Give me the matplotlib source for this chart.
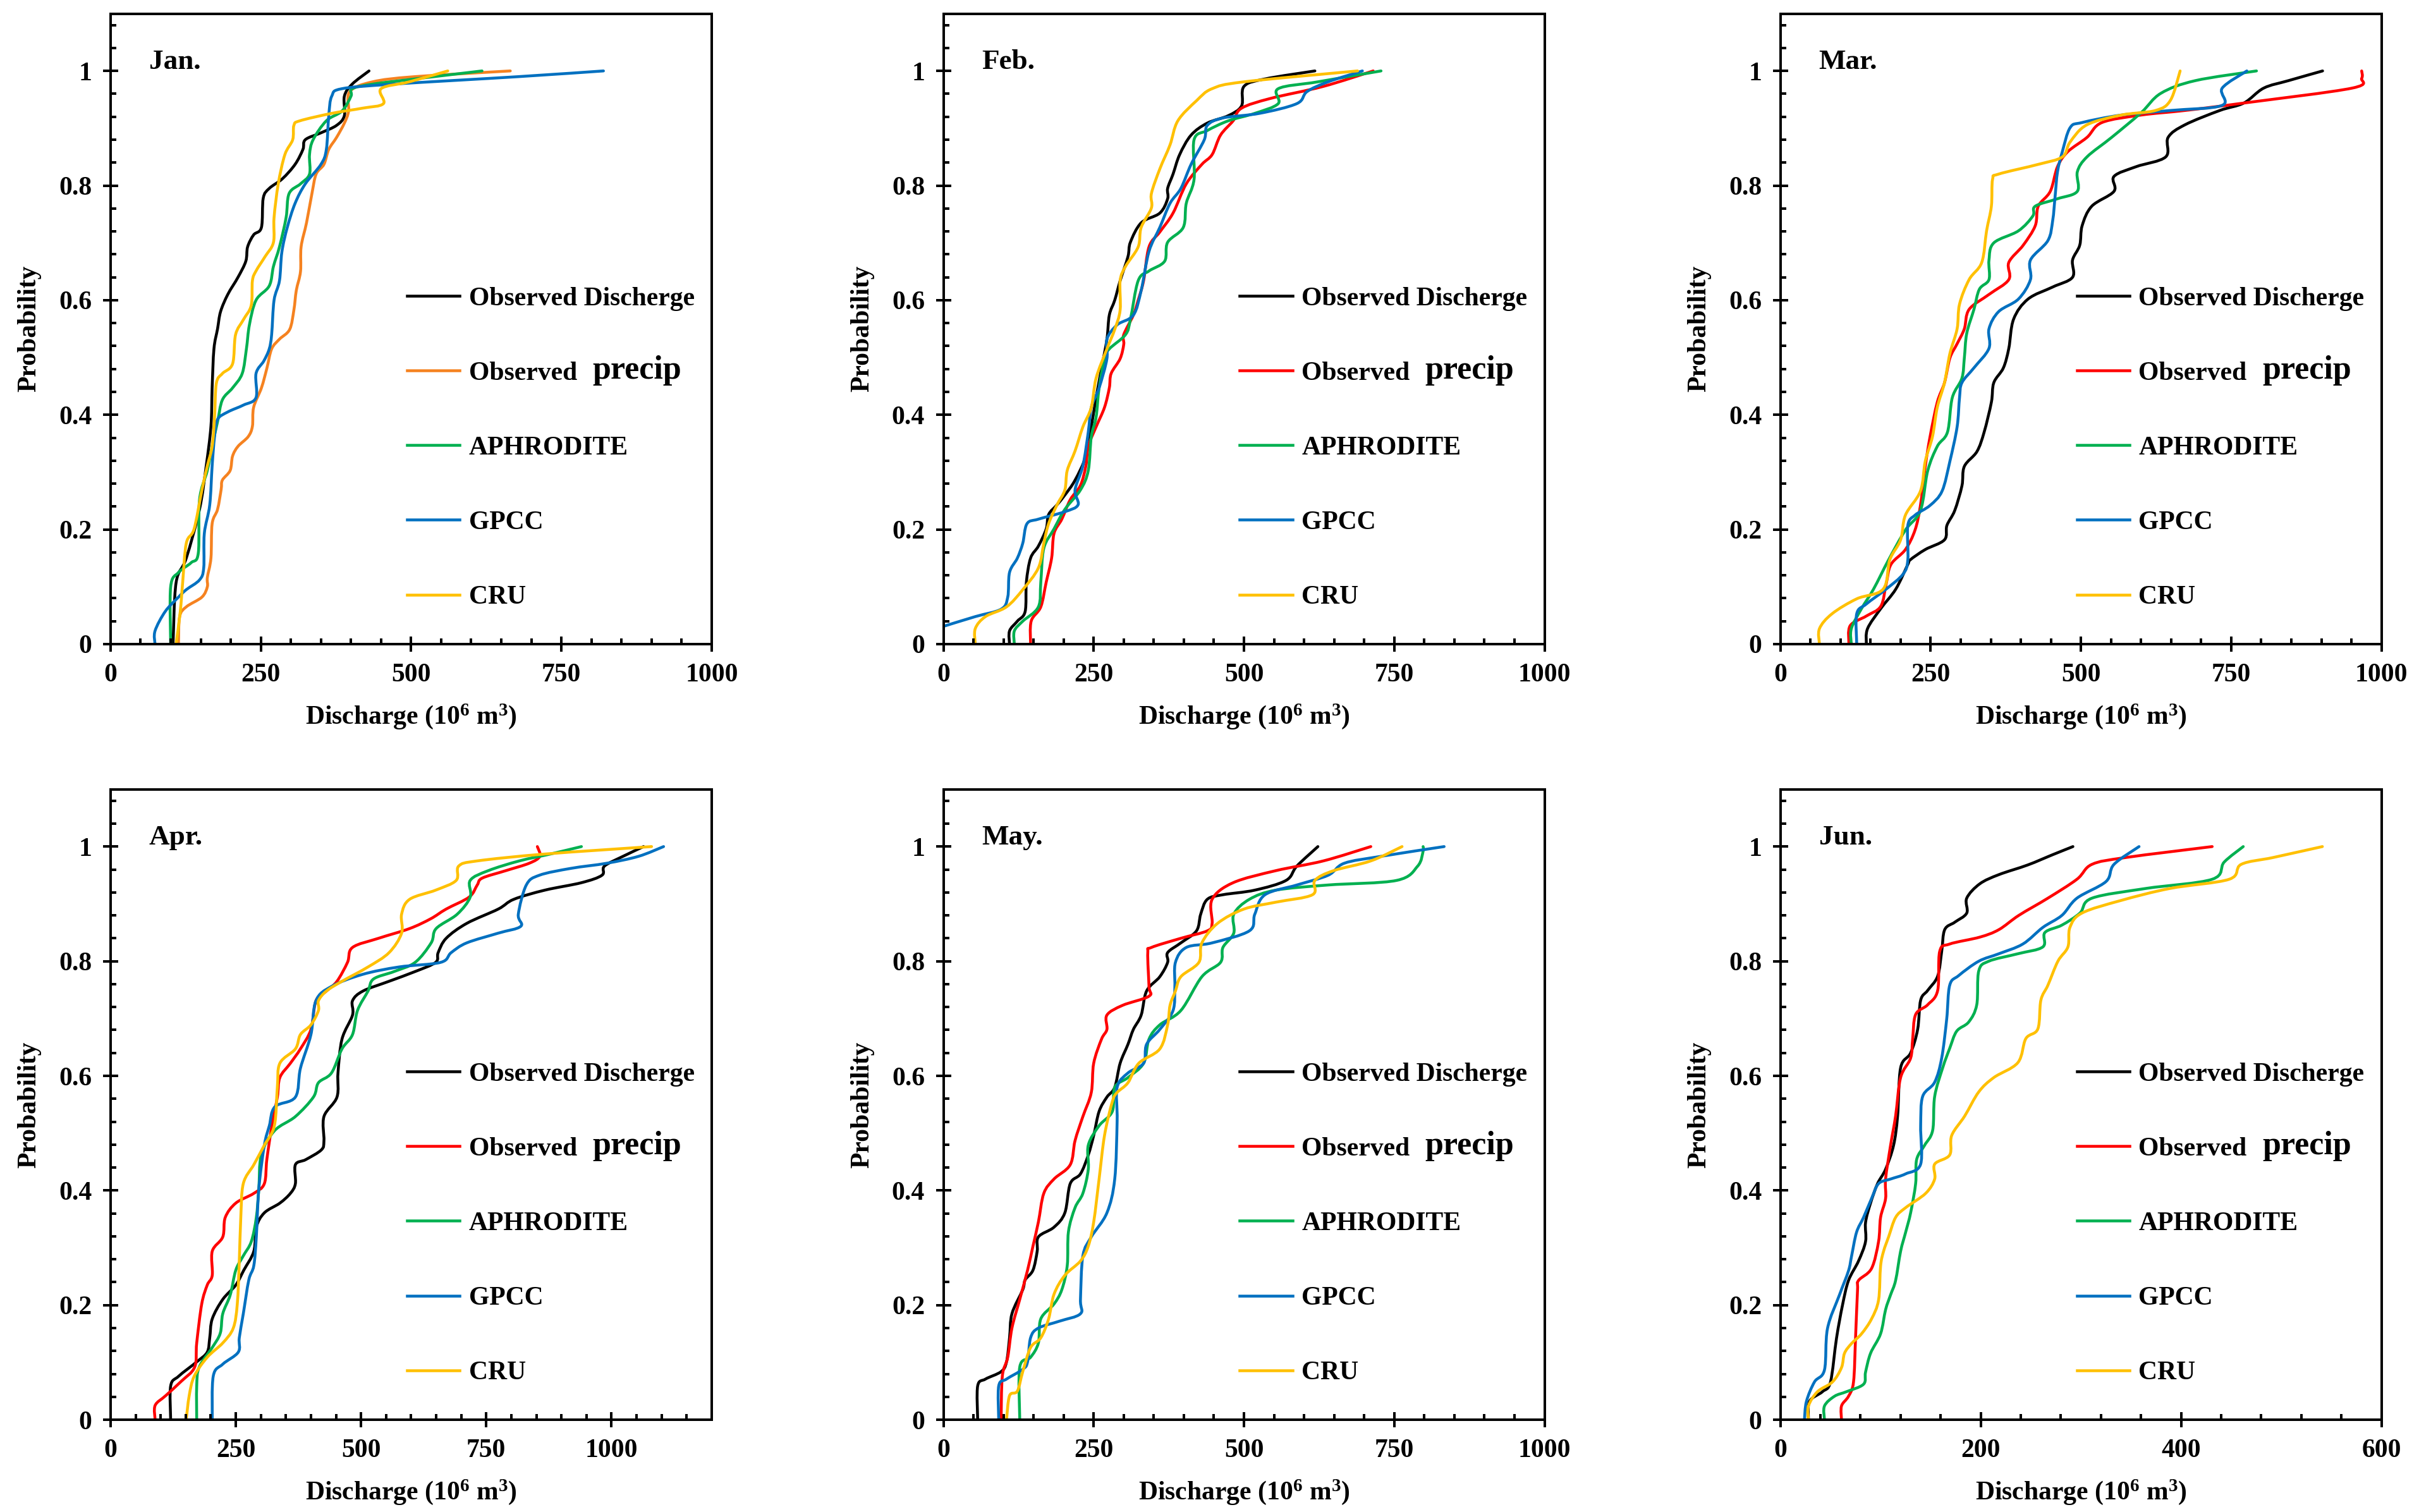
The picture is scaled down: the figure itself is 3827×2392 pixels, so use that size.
import matplotlib.pyplot as plt
from matplotlib.ticker import MultipleLocator, FuncFormatter
from matplotlib.path import Path
from matplotlib.patches import PathPatch
from matplotlib.lines import Line2D
import numpy as np

plt.rcParams['font.family'] = ['Liberation Serif', 'DejaVu Serif']
plt.rcParams['font.weight'] = 'bold'
plt.rcParams['axes.labelweight'] = 'bold'
plt.rcParams['mathtext.fontset'] = 'custom'
plt.rcParams['mathtext.rm'] = 'Liberation Serif:bold'
plt.rcParams['mathtext.default'] = 'rm'

# (discharge, probability)
jan_discharge = [(104, 0), (109, .107), (126, .15), (148, .235), (159, .31), (167, .38), (169, .447),
                 (172, .515), (178, .55), (183, .58), (195, .61), (212, .64), (225, .668), (228, .693),
                 (238, .714), (251, .727), (254, .778), (264, .795), (286, .812), (307, .837), (320, .863),
                 (324, .88), (350, .892), (376, .905), (389, .922), (389, .956), (402, .977), (430, 1)]
jan_precip = [(113, 0), (115, .048), (126, .065), (152, .082), (161, .1), (161, .116), (167, .15), (169, .21),
              (178, .235), (184, .27), (186, .286), (199, .303), (203, .328), (212, .345), (229, .362),
              (236, .38), (238, .413), (251, .447), (260, .481), (268, .515), (281, .532), (298, .549),
              (305, .583), (309, .617), (316, .65), (317, .693), (326, .735), (335, .786), (342, .82),
              (355, .837), (363, .863), (376, .884), (389, .909), (396, .93), (398, .964), (436, .981),
              (506, .99), (665, 1)]
jan_aphro = [(100, 0), (100, .1), (113, .125), (134, .142), (146, .159), (148, .252), (161, .303), (169, .345),
             (178, .388), (186, .426), (203, .447), (219, .472), (226, .515), (231, .557), (242, .6),
             (264, .625), (271, .659), (281, .693), (292, .744), (297, .786), (316, .803), (331, .82),
             (331, .854), (337, .88), (359, .913), (385, .93), (400, .956), (402, .969), (436, .977),
             (506, .986), (618, 1)]
jan_gpcc = [(74, 0), (74, .023), (91, .057), (113, .082), (126, .095), (148, .112), (155, .133), (156, .193),
            (165, .243), (169, .311), (173, .362), (178, .392), (195, .405), (221, .417), (242, .43),
            (242, .472), (255, .494), (264, .515), (268, .54), (272, .6), (281, .634), (285, .684),
            (294, .727), (307, .769), (324, .803), (350, .837), (359, .863), (363, .922), (368, .956),
            (385, .969), (471, .977), (678, .99), (820, 1)]
jan_cru = [(109, 0), (116, .057), (120, .108), (126, .176), (139, .201), (152, .269), (161, .311), (169, .345),
           (173, .396), (176, .455), (186, .472), (203, .489), (208, .54), (221, .566), (234, .591),
           (236, .634), (242, .651), (257, .676), (271, .701), (272, .744), (279, .803), (290, .854),
           (303, .88), (305, .905), (315, .913), (368, .926), (419, .935), (454, .943), (450, .969),
           (497, .981), (561, 1)]

feb_discharge = [(110, 0), (110, .023), (123, .04), (136, .057), (138, .108), (145, .15), (158, .171),
                 (171, .201), (175, .226), (189, .243), (202, .26), (219, .286), (237, .328), (246, .379),
                 (254, .43), (263, .481), (272, .532), (276, .574), (285, .6), (294, .634), (307, .676),
                 (311, .701), (329, .735), (360, .752), (373, .777), (373, .795), (382, .82), (393, .854),
                 (412, .888), (439, .909), (474, .922), (496, .939), (500, .973), (535, .986), (618, 1)]
feb_precip = [(145, 0), (146, .04), (162, .065), (171, .108), (180, .15), (184, .193), (197, .218),
              (211, .252), (228, .277), (237, .311), (241, .345), (254, .379), (268, .413), (276, .447),
              (279, .472), (294, .498), (300, .523), (300, .54), (316, .574), (324, .6), (333, .634),
              (342, .693), (360, .719), (382, .752), (404, .803), (430, .837), (447, .854), (461, .888),
              (482, .913), (496, .935), (544, .952), (632, .973), (715, 1)]
feb_aphro = [(118, 0), (118, .023), (132, .04), (158, .065), (162, .108), (167, .167), (184, .201),
             (202, .235), (228, .269), (241, .303), (246, .362), (254, .396), (259, .447), (268, .498),
             (276, .515), (303, .54), (311, .566), (324, .634), (342, .651), (368, .668), (373, .701),
             (399, .727), (404, .769), (417, .811), (417, .88), (439, .896), (474, .913), (518, .926),
             (557, .943), (557, .969), (623, .981), (728, 1)]
feb_gpcc = [(0, .031), (53, .048), (96, .061), (107, .082), (110, .125), (123, .15), (132, .176), (139, .21),
            (158, .218), (202, .231), (224, .243), (219, .269), (232, .311), (241, .37), (246, .413),
            (259, .447), (272, .498), (272, .532), (289, .557), (316, .574), (329, .617), (342, .685),
            (360, .727), (377, .769), (395, .795), (412, .837), (434, .88), (439, .905), (465, .918),
            (526, .926), (588, .943), (605, .964), (640, .981), (697, 1)]
feb_cru = [(53, 0), (53, .027), (70, .048), (105, .065), (132, .095), (158, .133), (167, .176), (175, .21),
           (189, .243), (202, .269), (206, .303), (219, .337), (232, .379), (246, .413), (254, .464),
           (272, .515), (285, .549), (294, .583), (294, .634), (303, .659), (324, .693), (329, .727),
           (346, .761), (346, .786), (360, .829), (377, .871), (390, .913), (421, .948), (447, .969),
           (500, .981), (689, 1)]

mar_discharge = [(143, 0), (145, .027), (167, .062), (192, .096), (212, .139), (216, .147), (241, .165),
                 (273, .182), (277, .207), (290, .233), (302, .276), (306, .31), (327, .336), (339, .37),
                 (351, .422), (355, .456), (371, .482), (380, .516), (388, .567), (412, .602), (453, .623),
                 (486, .64), (486, .67), (498, .696), (502, .73), (518, .764), (555, .79), (555, .816),
                 (592, .833), (641, .85), (645, .884), (673, .906), (731, .931), (771, .944), (804, .97),
                 (845, .983), (902, 1)]
mar_precip = [(114, 0), (116, .032), (143, .049), (167, .066), (176, .105), (184, .139), (208, .165),
              (224, .199), (233, .242), (241, .31), (249, .362), (261, .422), (273, .456), (282, .499),
              (294, .524), (306, .55), (314, .584), (347, .61), (380, .636), (380, .666), (404, .696),
              (424, .73), (429, .764), (449, .79), (461, .833), (478, .859), (510, .884), (535, .91),
              (600, .923), (673, .931), (771, .944), (951, .97), (967, .987), (967, 1)]
mar_aphro = [(118, 0), (118, .027), (135, .062), (155, .096), (180, .147), (208, .199), (233, .233),
             (245, .302), (261, .345), (278, .37), (286, .43), (302, .464), (306, .499), (310, .542),
             (322, .584), (331, .619), (347, .636), (347, .67), (355, .7), (396, .721), (420, .747),
             (424, .764), (461, .777), (494, .79), (494, .824), (510, .85), (551, .884), (600, .927),
             (633, .961), (690, .983), (792, 1)]
mar_gpcc = [(127, 0), (127, .053), (143, .07), (176, .096), (204, .122), (212, .147), (212, .207),
            (224, .225), (249, .242), (269, .267), (282, .319), (294, .379), (298, .43), (302, .456),
            (322, .482), (347, .516), (347, .55), (363, .58), (396, .602), (416, .636), (416, .67),
            (445, .704), (453, .739), (457, .781), (461, .824), (469, .859), (482, .901), (502, .91),
            (567, .923), (649, .931), (735, .94), (735, .97), (776, 1)]
mar_cru = [(65, 0), (65, .027), (86, .053), (127, .079), (171, .096), (182, .147), (200, .182), (208, .225),
           (233, .267), (241, .319), (253, .362), (261, .413), (273, .456), (282, .507), (294, .55),
           (298, .593), (314, .636), (335, .666), (343, .721), (351, .764), (353, .811), (363, .82),
           (429, .837), (469, .85), (482, .876), (510, .906), (567, .923), (624, .931), (649, .949),
           (665, 1)]

apr_discharge = [(120, 0), (120, .059), (136, .076), (172, .101), (193, .118), (198, .143), (203, .176),
                 (224, .21), (250, .235), (266, .261), (286, .294), (291, .336), (307, .361), (338, .378),
                 (359, .395), (369, .412), (369, .445), (390, .454), (421, .471), (426, .487), (426, .529),
                 (452, .563), (454, .605), (462, .664), (483, .706), (483, .731), (504, .748), (556, .765),
                 (608, .782), (649, .798), (654, .815), (670, .84), (711, .866), (774, .891), (805, .908),
                 (867, .924), (940, .937), (981, .95), (986, .966), (1023, .983), (1064, 1)]
apr_precip = [(89, 0), (89, .025), (110, .042), (141, .067), (168, .092), (172, .134), (182, .202),
              (193, .235), (203, .252), (203, .294), (224, .319), (229, .353), (250, .378), (286, .395),
              (307, .412), (312, .454), (322, .513), (333, .563), (338, .597), (359, .622), (379, .647),
              (400, .681), (410, .731), (431, .748), (452, .765), (473, .798), (483, .824), (535, .84),
              (597, .857), (639, .874), (670, .891), (716, .912), (732, .933), (742, .945), (789, .958),
              (836, .971), (857, .983), (852, 1)]
apr_aphro = [(172, 0), (172, .059), (177, .092), (203, .126), (219, .151), (224, .185), (239, .218),
             (250, .261), (265, .286), (281, .311), (291, .353), (296, .403), (301, .462), (327, .504),
             (369, .529), (405, .563), (415, .588), (441, .605), (462, .647), (483, .672), (493, .714),
             (514, .748), (525, .769), (566, .782), (608, .798), (640, .832), (650, .857), (692, .882),
             (718, .912), (718, .941), (754, .958), (816, .975), (878, .987), (940, 1)]
apr_gpcc = [(203, 0), (205, .076), (224, .097), (255, .118), (257, .143), (265, .185), (276, .244),
            (286, .269), (291, .319), (296, .403), (307, .479), (317, .513), (328, .546), (369, .563),
            (379, .613), (400, .672), (410, .731), (441, .756), (503, .777), (576, .79), (659, .798),
            (680, .815), (711, .832), (774, .849), (819, .861), (814, .882), (830, .933), (856, .95),
            (919, .962), (991, .971), (1054, .983), (1104, 1)]
apr_cru = [(151, 0), (157, .042), (167, .076), (193, .109), (224, .134), (245, .16), (253, .202), (257, .277),
           (260, .353), (265, .412), (286, .445), (307, .479), (327, .513), (333, .58), (338, .622),
           (369, .647), (379, .672), (400, .689), (415, .714), (415, .731), (431, .748), (462, .765),
           (514, .79), (556, .815), (581, .849), (581, .882), (597, .908), (649, .924), (690, .941),
           (695, .966), (732, .975), (867, .987), (1080, 1)]

may_discharge = [(57, 0), (57, .059), (70, .071), (96, .084), (105, .101), (110, .143), (114, .185),
                 (132, .227), (136, .244), (149, .261), (156, .294), (158, .319), (184, .336), (202, .361),
                 (211, .412), (228, .429), (241, .462), (250, .496), (259, .538), (272, .563), (285, .58),
                 (294, .622), (307, .655), (316, .681), (329, .706), (338, .748), (360, .773), (373, .798),
                 (373, .815), (395, .832), (421, .853), (428, .882), (439, .908), (465, .916), (518, .924),
                 (570, .941), (588, .966), (623, 1)]
may_precip = [(96, 0), (98, .076), (107, .109), (114, .16), (127, .21), (140, .261), (149, .303), (158, .345),
              (167, .395), (184, .42), (211, .445), (219, .487), (232, .529), (246, .571), (250, .622),
              (263, .664), (272, .681), (272, .706), (298, .723), (342, .739), (342, .756), (340, .815),
              (346, .824), (395, .84), (439, .853), (447, .866), (447, .908), (482, .937), (553, .958),
              (632, .975), (711, 1)]
may_aphro = [(127, 0), (127, .092), (145, .109), (158, .134), (162, .176), (184, .202), (197, .227),
             (206, .269), (208, .328), (219, .37), (232, .395), (241, .437), (241, .479), (259, .513),
             (281, .538), (285, .58), (307, .597), (333, .622), (342, .664), (360, .689), (395, .714),
             (430, .773), (461, .798), (465, .824), (483, .849), (483, .882), (509, .908), (553, .924),
             (640, .933), (754, .941), (789, .966), (798, .992), (798, 1)]
may_gpcc = [(92, 0), (92, .059), (105, .071), (132, .088), (140, .101), (145, .143), (158, .16), (193, .172),
            (228, .185), (228, .21), (232, .286), (246, .319), (272, .361), (285, .42), (289, .521),
            (289, .58), (307, .605), (333, .622), (338, .655), (360, .681), (382, .714), (385, .756),
            (386, .798), (404, .824), (447, .832), (509, .853), (518, .882), (535, .916), (588, .933),
            (640, .95), (667, .971), (728, .983), (833, 1)]
may_cru = [(105, 0), (110, .042), (123, .05), (132, .084), (145, .126), (162, .143), (175, .176), (184, .219),
           (202, .252), (228, .277), (241, .303), (250, .345), (259, .42), (268, .496), (281, .555),
           (289, .571), (307, .588), (325, .622), (360, .647), (373, .689), (377, .723), (386, .748),
           (395, .773), (425, .798), (430, .832), (456, .866), (500, .891), (553, .903), (614, .916),
           (618, .941), (649, .958), (711, .975), (763, 1)]

jun_discharge = [(28, 0), (29, .032), (42, .049), (50, .066), (56, .142), (62, .2), (68, .243), (78, .277),
                 (85, .311), (85, .344), (90, .378), (97, .412), (105, .437), (113, .479), (117, .53),
                 (120, .614), (130, .64), (137, .681), (140, .732), (147, .749), (157, .774), (161, .817),
                 (164, .855), (174, .868), (186, .884), (186, .91), (199, .935), (218, .951), (247, .968),
                 (272, .986), (292, 1)]
jun_precip = [(61, 0), (61, .024), (68, .041), (73, .066), (75, .142), (77, .226), (78, .243), (91, .264),
              (98, .311), (100, .353), (105, .386), (105, .42), (110, .479), (115, .53), (120, .597),
              (130, .631), (132, .664), (135, .707), (147, .724), (157, .749), (159, .817), (169, .83),
              (199, .842), (218, .855), (238, .88), (267, .91), (296, .943), (311, .969), (345, .981),
              (431, 1)]
jun_aphro = [(44, 0), (44, .024), (54, .041), (66, .049), (83, .062), (85, .083), (90, .116), (100, .15),
             (105, .192), (110, .218), (115, .243), (120, .294), (125, .327), (130, .361), (135, .412),
             (136, .454), (144, .479), (152, .505), (154, .564), (162, .614), (169, .648), (176, .678),
             (188, .694), (196, .724), (198, .783), (208, .8), (237, .813), (262, .825), (264, .85),
             (281, .863), (299, .884), (311, .91), (365, .927), (431, .943), (443, .973), (462, 1)]
jun_gpcc = [(24, 0), (26, .032), (34, .066), (44, .087), (47, .159), (59, .218), (68, .26), (71, .285),
            (76, .327), (83, .353), (91, .386), (98, .412), (110, .42), (125, .429), (140, .446), (140, .513),
            (142, .564), (154, .589), (161, .631), (166, .699), (169, .758), (178, .775), (198, .8),
            (218, .813), (242, .83), (262, .859), (281, .88), (296, .91), (325, .939), (333, .969),
            (358, 1)]
jun_cru = [(28, 0), (28, .024), (37, .049), (52, .066), (61, .091), (64, .116), (71, .133), (81, .15),
           (91, .176), (98, .209), (100, .268), (103, .294), (108, .319), (115, .353), (125, .37),
           (145, .395), (154, .42), (154, .446), (169, .462), (171, .496), (184, .53), (198, .572),
           (213, .597), (237, .623), (245, .665), (257, .682), (260, .732), (267, .758), (277, .8),
           (287, .825), (289, .859), (301, .884), (340, .906), (389, .927), (448, .943), (460, .969),
           (492, .981), (541, 1)]

months = ['Jan.', 'Feb.', 'Mar.', 'Apr.', 'May.', 'Jun.']
month_series = [
    [jan_discharge, jan_precip, jan_aphro, jan_gpcc, jan_cru],
    [feb_discharge, feb_precip, feb_aphro, feb_gpcc, feb_cru],
    [mar_discharge, mar_precip, mar_aphro, mar_gpcc, mar_cru],
    [apr_discharge, apr_precip, apr_aphro, apr_gpcc, apr_cru],
    [may_discharge, may_precip, may_aphro, may_gpcc, may_cru],
    [jun_discharge, jun_precip, jun_aphro, jun_gpcc, jun_cru],
]
labels = ['Observed Discherge', 'Observed', 'APHRODITE', 'GPCC', 'CRU']
x_max = [1000, 1000, 1000, 1200, 1000, 600]
x_major = [250, 250, 250, 250, 250, 200]
x_minor = [50, 50, 50, 50, 50, 40]


def smooth_path(pts):
    # excel-like smoothed line: bezier segments through the read points (catmull-rom handles)
    p = np.asarray(pts, float)
    ext = np.vstack([p[0], p, p[-1]])
    verts, codes = [p[0]], [Path.MOVETO]
    for k in range(len(p) - 1):
        p0, p1, p2, p3 = ext[k], ext[k + 1], ext[k + 2], ext[k + 3]
        verts += [p1 + (p2 - p0) / 6, p2 - (p3 - p1) / 6, p2]
        codes += [Path.CURVE4] * 3
    return Path(verts, codes)


fig = plt.figure(figsize=(3827 / 250, 2392 / 250), dpi=250)
lefts = [0.0457, 0.390, 0.736]
bottoms = [0.574, 0.061]

for i, name in enumerate(months):
    ax = fig.add_axes([lefts[i % 3], bottoms[i // 3], 0.2485, 0.417])
    precip_col = '#F58220' if i == 0 else '#FF0000'
    colors = ['black', precip_col, '#00B050', '#0070C0', '#FFC000']
    handles = []
    for data, col in zip(month_series[i], colors):
        ax.add_patch(PathPatch(smooth_path(data), fill=False, edgecolor=col, lw=1.3,
                               joinstyle='round', capstyle='round'))
        handles.append(Line2D([], [], color=col, lw=1.3))

    ax.set_xlim(0, x_max[i])
    ax.set_ylim(0, 1.1)
    ax.xaxis.set_major_locator(MultipleLocator(x_major[i]))
    ax.xaxis.set_minor_locator(MultipleLocator(x_minor[i]))
    ax.yaxis.set_major_locator(MultipleLocator(0.2))
    ax.yaxis.set_minor_locator(MultipleLocator(0.04))
    ax.yaxis.set_major_formatter(FuncFormatter(lambda v, _: f'{v:g}'))
    ax.tick_params(which='major', direction='inout', length=7, width=1.15, labelsize=12, pad=5)
    ax.tick_params(which='minor', direction='in', length=2.7, width=1.15)
    for t in ax.get_xticklabels() + ax.get_yticklabels():
        t.set_fontweight('bold')
    for s in ax.spines.values():
        s.set_linewidth(1.15)

    ax.set_xlabel(r'Discharge (10$^{6}$ m$^{3}$)', fontsize=12, fontweight='bold', labelpad=7)
    ax.set_ylabel('Probability', fontsize=12, fontweight='bold', labelpad=8)
    ax.text(0.064, 0.923, name, transform=ax.transAxes, fontsize=13, va='center')

    leg = ax.legend(handles, labels, loc='center left', bbox_to_anchor=(0.493, 0.311), frameon=False,
                    fontsize=12, handlelength=2.0, handletextpad=0.35, labelspacing=1.92,
                    borderpad=0, borderaxespad=0)
    ax.annotate('precip', xy=(1, 0), xycoords=leg.get_texts()[1], xytext=(7, 0),
                textcoords='offset points', fontsize=15, fontweight='bold',
                va='bottom', ha='left', zorder=6)

fig.savefig('out.png', dpi=250)
